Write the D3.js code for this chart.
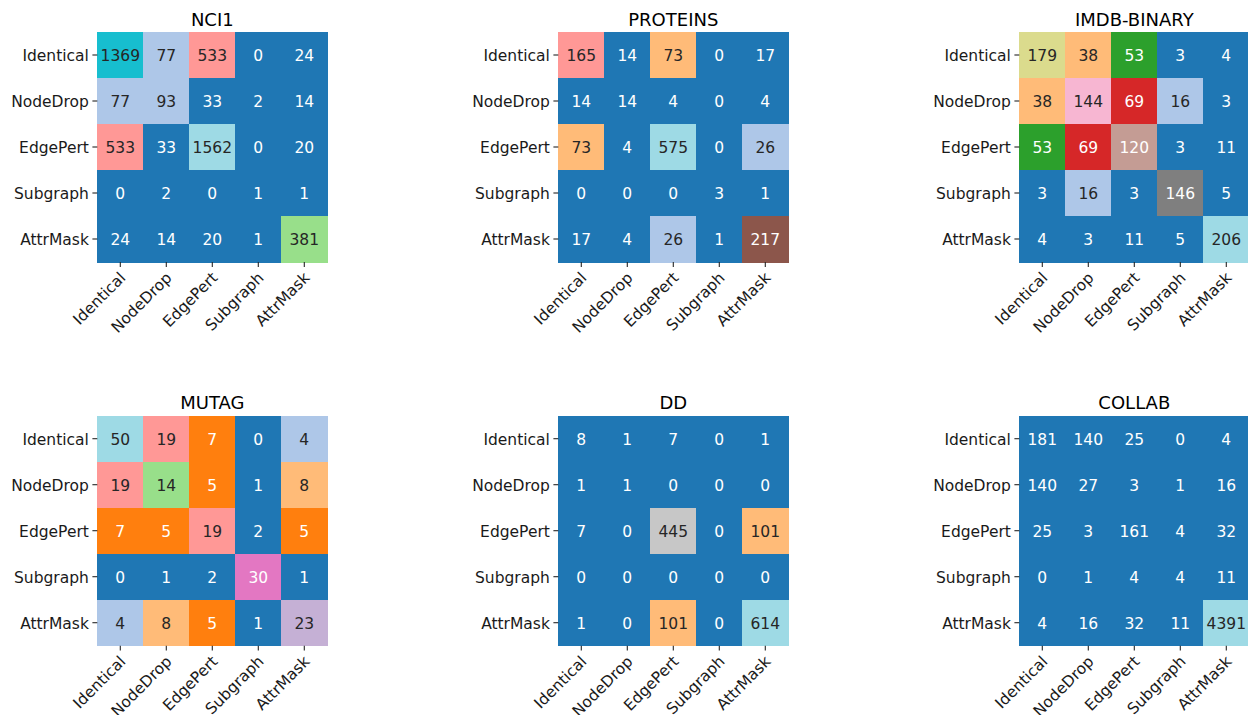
<!DOCTYPE html>
<html>
<head>
<meta charset="utf-8">
<script src="https://cdn.jsdelivr.net/npm/d3@7"></script>
<style>
  body { margin: 0; background: #fff; }
  svg { font-family: "DejaVu Sans", sans-serif; }
</style>
</head>
<body>
<div id="chart"></div>
<script>
// augmentation pairs, same order on both axes
const methods = ['Identical', 'NodeDrop', 'EdgePert', 'Subgraph', 'AttrMask'];
const datasets = ['NCI1', 'PROTEINS', 'IMDB-BINARY', 'MUTAG', 'DD', 'COLLAB'];

const nci1 = [
    [1369, 77, 533, 0, 24],
    [77, 93, 33, 2, 14],
    [533, 33, 1562, 0, 20],
    [0, 2, 0, 1, 1],
    [24, 14, 20, 1, 381]
];
const proteins = [
    [165, 14, 73, 0, 17],
    [14, 14, 4, 0, 4],
    [73, 4, 575, 0, 26],
    [0, 0, 0, 3, 1],
    [17, 4, 26, 1, 217]
];
const imdbBinary = [
    [179, 38, 53, 3, 4],
    [38, 144, 69, 16, 3],
    [53, 69, 120, 3, 11],
    [3, 16, 3, 146, 5],
    [4, 3, 11, 5, 206]
];
const mutag = [
    [50, 19, 7, 0, 4],
    [19, 14, 5, 1, 8],
    [7, 5, 19, 2, 5],
    [0, 1, 2, 30, 1],
    [4, 8, 5, 1, 23]
];
const dd = [
    [8, 1, 7, 0, 1],
    [1, 1, 0, 0, 0],
    [7, 0, 445, 0, 101],
    [0, 0, 0, 0, 0],
    [1, 0, 101, 0, 614]
];
const collab = [
    [181, 140, 25, 0, 4],
    [140, 27, 3, 1, 16],
    [25, 3, 161, 4, 32],
    [0, 1, 4, 4, 11],
    [4, 16, 32, 11, 4391]
];
const matrices = [nci1, proteins, imdbBinary, mutag, dd, collab];

// upper end of the colour scale for each panel
const colorMax = [1480, 420, 206, 50, 580, 4391];

// matplotlib tab20
const tab20 = [
    '#1f77b4', '#aec7e8', '#ff7f0e', '#ffbb78', '#2ca02c',
    '#98df8a', '#d62728', '#ff9896', '#9467bd', '#c5b0d5',
    '#8c564b', '#c49c94', '#e377c2', '#f7b6d2', '#7f7f7f',
    '#c7c7c7', '#bcbd22', '#dbdb8d', '#17becf', '#9edae5'
];

const width = 1248;
const height = 715;
const size = 230;
const colLeft = [97.3, 558.3, 1019.3];
const rowTop = [32, 415.7];
const fontSize = 15.5;

function luminance(color) {
    const c = d3.rgb(color);
    const lin = (v) => {
        v /= 255;
        return v <= 0.03928 ? v / 12.92 : Math.pow((v + 0.055) / 1.055, 2.4);
    };
    return 0.2126 * lin(c.r) + 0.7152 * lin(c.g) + 0.0722 * lin(c.b);
}

const svg = d3.select('#chart')
    .append('svg')
    .attr('width', width)
    .attr('height', height);

const band = d3.scaleBand().domain(methods).range([0, size]);

function drawPanel(i) {
    const matrix = matrices[i];
    const cells = [];
    matrix.forEach((row, r) => row.forEach((v, c) => cells.push({ r: methods[r], c: methods[c], v: v })));

    const color = d3.scaleQuantize()
        .domain([d3.min(cells, (d) => d.v), colorMax[i]])
        .range(tab20);

    const g = svg.append('g')
        .attr('transform', `translate(${colLeft[i % 3]},${rowTop[Math.floor(i / 3)]})`);

    g.selectAll('rect')
        .data(cells)
        .enter()
        .append('rect')
        .attr('x', (d) => band(d.c))
        .attr('y', (d) => band(d.r))
        .attr('width', band.bandwidth() + 0.5)
        .attr('height', band.bandwidth() + 0.5)
        .attr('shape-rendering', 'crispEdges')
        .attr('fill', (d) => color(d.v));

    g.selectAll('.annot')
        .data(cells)
        .enter()
        .append('text')
        .attr('class', 'annot')
        .attr('x', (d) => band(d.c) + band.bandwidth() / 2)
        .attr('y', (d) => band(d.r) + band.bandwidth() / 2)
        .attr('dy', '0.38em')
        .attr('text-anchor', 'middle')
        .style('font-size', fontSize + 'px')
        .attr('fill', (d) => (luminance(color(d.v)) > 0.408 ? '#262626' : '#ffffff'))
        .text((d) => d.v);

    const yAxis = g.append('g')
        .call(d3.axisLeft(band).tickSize(4.9).tickPadding(3.5));
    const xAxis = g.append('g')
        .attr('transform', `translate(0,${size})`)
        .call(d3.axisBottom(band).tickSize(4.9).tickPadding(3.5));

    [xAxis, yAxis].forEach((ax) => {
        ax.select('.domain').remove();
        ax.selectAll('line').attr('stroke', '#262626').attr('stroke-width', 1.1);
        ax.selectAll('text')
            .attr('fill', '#1a1a1a')
            .style('font-size', fontSize + 'px')
            .style('font-family', '"DejaVu Sans", sans-serif');
    });
    yAxis.selectAll('text').attr('dy', '0.38em');

    // rotate about the top-right corner of each label
    const k = 4.9 + 3.5;
    xAxis.selectAll('text')
        .attr('text-anchor', 'end')
        .attr('x', -2)
        .attr('y', k)
        .attr('dy', '0.76em')
        .attr('transform', `rotate(-45 -2 ${k})`);

    g.append('text')
        .attr('x', size / 2)
        .attr('y', -6.3)
        .attr('text-anchor', 'middle')
        .style('font-size', '18px')
        .attr('fill', '#000')
        .text(datasets[i]);
}

datasets.forEach((name, i) => drawPanel(i));
</script>
</body>
</html>
